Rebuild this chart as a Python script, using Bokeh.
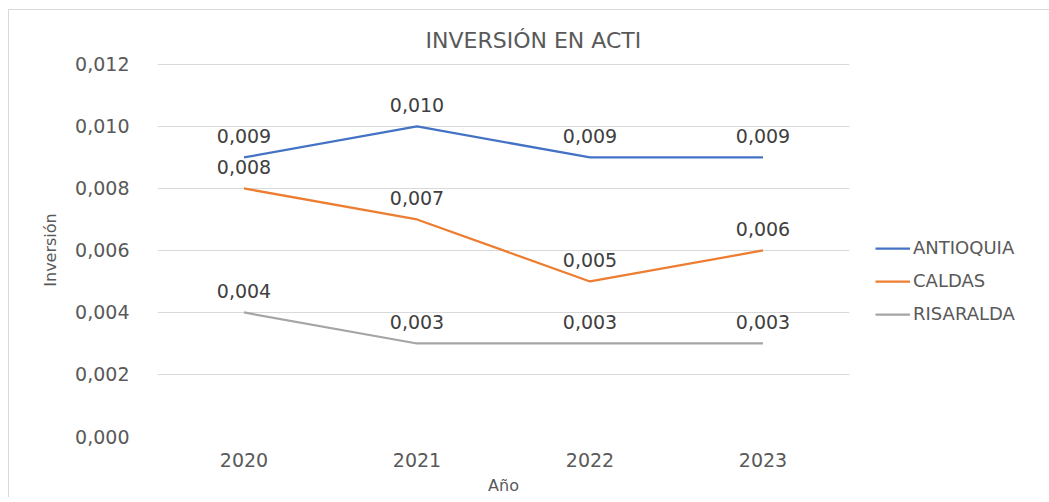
from bokeh.plotting import figure
from bokeh.models import ColumnDataSource, Legend, LegendItem, FixedTicker, Range1d, Title
from bokeh.core.properties import value
from bokeh.embed import file_html
from bokeh.resources import INLINE

years = ["2020", "2021", "2022", "2023"]
antioquia = [0.009, 0.010, 0.009, 0.009]
caldas = [0.008, 0.007, 0.005, 0.006]
risaralda = [0.004, 0.003, 0.003, 0.003]
series_names = ["ANTIOQUIA", "CALDAS", "RISARALDA"]
colors = ["#4472C4", "#ED7D31", "#A5A5A5"]
y_ticks = [0.000, 0.002, 0.004, 0.006, 0.008, 0.010, 0.012]
title_text = "INVERSIÓN EN ACTI"


def fmt(v):
    return f"{v:.3f}".replace(".", ",")


FONT = "DejaVu Sans"

p = figure(x_range=years, y_range=Range1d(0, 0.01203),
           frame_width=692, frame_height=373,
           output_backend="svg", toolbar_location=None,
           min_border_left=148, min_border_right=190, min_border_top=53, min_border_bottom=58)
p.margin = (9, 0, 0, 8)
p.styles = {"border-left": "1px solid #d9d9d9", "border-top": "1px solid #d9d9d9"}
p.outline_line_color = None
p.title = None

title = Title(text=title_text, align="left", offset=268, standoff=17,
              vertical_align="top", text_baseline="middle",
              text_font=FONT, text_font_size="22px", text_font_style="normal",
              text_color="#595959")
p.add_layout(title, "above")

items = []
for name, vals, col in zip(series_names, [antioquia, caldas, risaralda], colors):
    src = ColumnDataSource(dict(x=years, y=vals, lab=[fmt(v) for v in vals]))
    r = p.line("x", "y", source=src, line_color=col, line_width=2.25)
    p.text("x", "y", text="lab", source=src, text_align="center", text_baseline="bottom",
           y_offset=-14, text_font=value(FONT), text_font_size="19px", text_color="#404040")
    items.append(LegendItem(label=name, renderers=[r]))

legend = Legend(items=items, location=(26, 112), orientation="vertical",
                label_text_font=FONT, label_text_font_size="18px", label_text_color="#595959",
                glyph_width=35, glyph_height=20, label_standoff=3, spacing=12,
                padding=0, margin=0, border_line_color=None, background_fill_alpha=0)
p.add_layout(legend, "right")

p.yaxis.ticker = FixedTicker(ticks=y_ticks)
p.yaxis.major_label_overrides = {t: fmt(t) for t in y_ticks}
p.yaxis.axis_line_color = None
p.yaxis.major_tick_line_color = None
p.yaxis.minor_tick_line_color = None
p.yaxis.major_label_standoff = 22
p.yaxis.major_label_text_font = FONT
p.yaxis.major_label_text_font_size = "19px"
p.yaxis.major_label_text_color = "#595959"
p.yaxis.axis_label = "Inversión"
p.yaxis.axis_label_text_font = FONT
p.yaxis.axis_label_text_font_size = "16px"
p.yaxis.axis_label_text_font_style = "normal"
p.yaxis.axis_label_text_color = "#595959"
p.yaxis.axis_label_standoff = 12

p.xaxis.axis_line_color = None
p.xaxis.major_tick_line_color = None
p.xaxis.minor_tick_line_color = None
p.xaxis.major_label_standoff = 10
p.xaxis.major_label_text_font = FONT
p.xaxis.major_label_text_font_size = "19px"
p.xaxis.major_label_text_color = "#595959"
p.xaxis.axis_label = "Año"
p.xaxis.axis_label_text_font = FONT
p.xaxis.axis_label_text_font_size = "16px"
p.xaxis.axis_label_text_font_style = "normal"
p.xaxis.axis_label_text_color = "#595959"
p.xaxis.axis_label_standoff = 6

p.xgrid.grid_line_color = None
p.ygrid.grid_line_color = "#d9d9d9"
p.ygrid.grid_line_width = 1

open("out.html", "w").write(file_html(p, INLINE))
